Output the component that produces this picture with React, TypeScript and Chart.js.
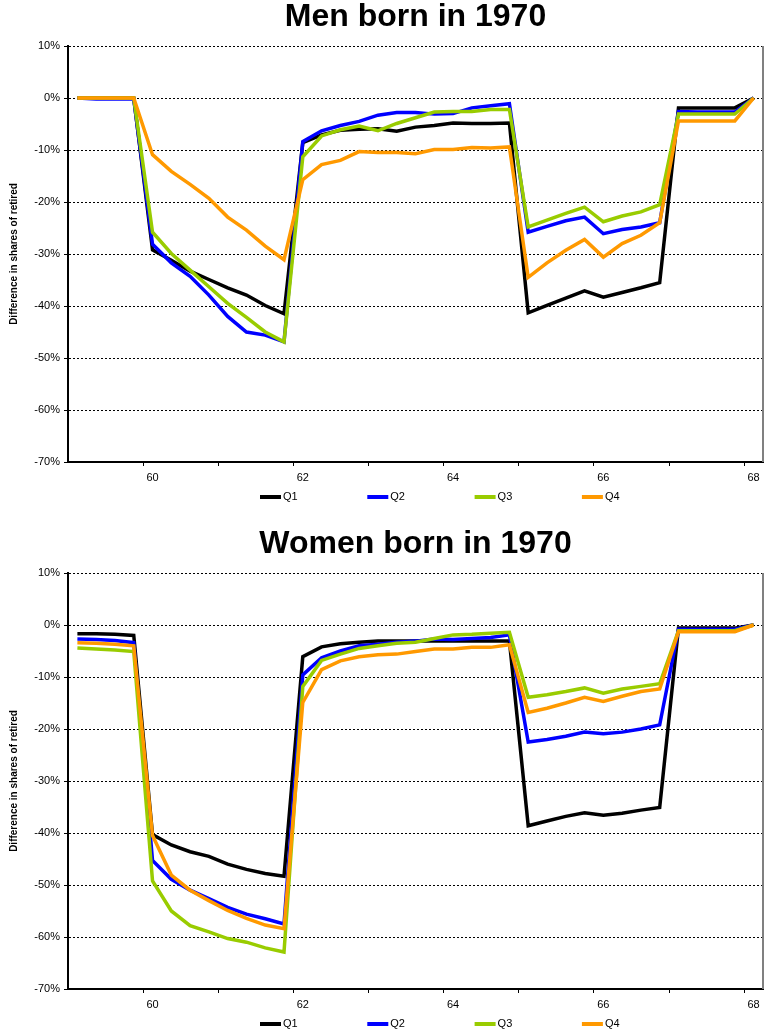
import React, { useEffect, useRef } from 'react';
import { Chart, registerables } from 'chart.js';

Chart.register(...registerables);

const ages = [
  59, 59.25, 59.5, 59.75, 60, 60.25, 60.5, 60.75, 61, 61.25, 61.5, 61.75,
  62, 62.25, 62.5, 62.75, 63, 63.25, 63.5, 63.75, 64, 64.25, 64.5, 64.75,
  65, 65.25, 65.5, 65.75, 66, 66.25, 66.5, 66.75, 67, 67.25, 67.5, 67.75, 68,
];

const seriesNames = ['Q1', 'Q2', 'Q3', 'Q4'];
const seriesColors = ['#000000', '#0000FF', '#99CC00', '#FF9900'];
const yTickValues = [10, 0, -10, -20, -30, -40, -50, -60, -70];
const xLabelAges = [60, 62, 64, 66, 68];

const menQ1 = [0, 0, 0, 0, -29.2, -31.2, -33.3, -34.9, -36.5, -37.9, -39.9, -41.5, -8.6, -7.1, -6.2, -6.0, -5.9, -6.4, -5.6, -5.3, -4.8, -4.9, -4.9, -4.8, -41.3, -39.9, -38.5, -37.1, -38.3, -37.4, -36.5, -35.5, -1.9, -1.9, -1.9, -1.9, 0];
const menQ2 = [0, -0.2, -0.2, -0.2, -28.1, -31.7, -34.3, -37.9, -42.0, -45.0, -45.6, -46.9, -8.4, -6.3, -5.3, -4.5, -3.3, -2.8, -2.8, -3.1, -3.0, -1.9, -1.5, -1.1, -25.8, -24.7, -23.6, -22.9, -26.1, -25.3, -24.8, -24.0, -2.6, -2.7, -2.7, -2.7, 0];
const menQ3 = [0, 0, 0, 0, -25.8, -29.9, -33.1, -36.3, -39.5, -42.2, -45.0, -46.9, -11.3, -7.3, -6.1, -5.4, -6.3, -4.9, -3.8, -2.7, -2.6, -2.6, -2.2, -2.2, -24.8, -23.5, -22.2, -21.0, -23.8, -22.7, -21.9, -20.5, -3.1, -3.1, -3.1, -3.1, 0];
const menQ4 = [0, 0, 0, 0, -10.9, -14.1, -16.6, -19.3, -22.9, -25.4, -28.5, -31.1, -15.7, -12.8, -12.0, -10.3, -10.5, -10.5, -10.7, -9.9, -9.9, -9.5, -9.6, -9.4, -34.5, -31.7, -29.3, -27.2, -30.6, -28.0, -26.4, -24.0, -4.4, -4.4, -4.4, -4.4, 0];

const womenQ1 = [-1.7, -1.7, -1.8, -2.0, -40.3, -42.3, -43.6, -44.5, -46.0, -47.0, -47.8, -48.3, -6.1, -4.2, -3.6, -3.3, -3.1, -3.1, -3.1, -3.1, -3.1, -3.1, -3.1, -3.1, -38.6, -37.7, -36.8, -36.1, -36.6, -36.2, -35.6, -35.1, -0.6, -0.6, -0.6, -0.6, 0];
const womenQ2 = [-2.7, -2.8, -3.0, -3.4, -45.3, -48.9, -51.0, -52.6, -54.3, -55.6, -56.5, -57.5, -9.6, -6.3, -5.0, -4.0, -3.7, -3.3, -3.1, -2.7, -2.8, -2.6, -2.4, -1.9, -22.5, -22.0, -21.4, -20.6, -20.9, -20.6, -20.0, -19.2, -0.8, -0.8, -0.8, -0.8, 0];
const womenQ3 = [-4.4, -4.6, -4.8, -5.1, -49.2, -55.0, -57.8, -59.0, -60.3, -61.0, -62.1, -62.9, -11.8, -6.8, -5.6, -4.5, -4.0, -3.5, -3.3, -2.6, -1.9, -1.8, -1.6, -1.4, -13.9, -13.4, -12.8, -12.1, -13.1, -12.3, -11.8, -11.3, -1.1, -1.1, -1.1, -1.1, 0];
const womenQ4 = [-3.4, -3.5, -3.7, -4.0, -40.5, -48.1, -51.0, -53.0, -54.9, -56.4, -57.7, -58.4, -14.9, -8.6, -6.9, -6.1, -5.7, -5.6, -5.1, -4.6, -4.6, -4.3, -4.3, -3.8, -16.8, -16.0, -15.0, -13.9, -14.7, -13.7, -12.8, -12.3, -1.3, -1.3, -1.3, -1.3, 0];

const menTitle = 'Men born in 1970';
const womenTitle = 'Women born in 1970';
const yAxisTitle = 'Difference in shares of retired';

const FONT = '"Liberation Sans", Arial, Helvetica, sans-serif';
const W = 767;
const H = 527;

const framePlugin = {
  id: 'frameAndLegend',
  beforeDatasetsDraw(chart: any) {
    const { ctx, chartArea: a } = chart;
    ctx.save();
    ctx.strokeStyle = '#808080';
    ctx.lineWidth = 2;
    ctx.beginPath();
    ctx.moveTo(a.right, a.top);
    ctx.lineTo(a.right, a.bottom);
    ctx.stroke();
    ctx.restore();
  },
  afterDraw(chart: any) {
    const { ctx, chartArea: a } = chart;
    const y = a.bottom + 35;
    ctx.save();
    ctx.font = '11px ' + FONT;
    ctx.textBaseline = 'middle';
    ctx.textAlign = 'left';
    chart.data.datasets.forEach((ds: any, i: number) => {
      const x = a.left + 192 + i * 107.3;
      ctx.fillStyle = ds.borderColor;
      ctx.fillRect(x, y - 2, 21, 4);
      ctx.fillStyle = '#000';
      ctx.fillText(ds.label, x + 23, y);
    });
    ctx.restore();
  },
};

function Panel({ title, series }: { title: string; series: number[][] }) {
  const ref = useRef<HTMLCanvasElement>(null);
  useEffect(() => {
    const canvas = ref.current;
    if (!canvas) return;
    const chart = new Chart(canvas, {
      type: 'line',
      data: {
        labels: ages.map(String),
        datasets: series.map((d, i) => ({
          label: seriesNames[i],
          data: d,
          borderColor: seriesColors[i],
          backgroundColor: seriesColors[i],
          borderWidth: 3.5,
          pointRadius: 0,
          tension: 0,
          fill: false,
          order: series.length - 1 - i,
        })),
      },
      options: {
        responsive: false,
        animation: false,
        layout: { padding: { left: 0, right: 4, top: 0, bottom: 35 } },
        plugins: {
          legend: { display: false },
          tooltip: { enabled: false },
          title: {
            display: true,
            text: title,
            fullSize: false,
            color: '#000',
            font: { family: FONT, size: 32, weight: 'bold', lineHeight: 1.1 },
            padding: { top: 0, bottom: 10.8 },
          },
        },
        scales: {
          x: {
            type: 'category',
            offset: true,
            grid: {
              offset: true,
              drawOnChartArea: false,
              drawTicks: true,
              tickLength: 4,
              tickWidth: 1,
              lineWidth: 1,
              tickColor: (c: any) => {
                const i = c.index;
                if (i === undefined || i === 0) return 'rgba(0,0,0,0)';
                return Number.isInteger(ages[i]) ? '#000' : 'rgba(0,0,0,0)';
              },
            },
            border: { display: true, color: '#000', width: 2 },
            ticks: {
              autoSkip: false,
              maxRotation: 0,
              minRotation: 0,
              padding: 5,
              color: '#000',
              font: { family: FONT, size: 11 },
              callback: (_v: any, i: number) =>
                xLabelAges.includes(ages[i]) ? String(ages[i]) : '',
            },
            afterFit: (s: any) => {
              s.height = 30;
            },
          },
          y: {
            min: yTickValues[yTickValues.length - 1],
            max: yTickValues[0],
            afterBuildTicks: (s: any) => {
              s.ticks = yTickValues.map((v) => ({ value: v }));
            },
            grid: {
              color: '#000',
              lineWidth: 1,
              drawTicks: true,
              tickLength: 4,
              tickColor: '#000',
              tickBorderDash: [],
            },
            border: { display: true, color: '#000', width: 2, dash: [2, 2] },
            ticks: {
              padding: 4,
              color: '#000',
              font: { family: FONT, size: 11 },
              callback: (v: any) => v + '%',
            },
            title: {
              display: true,
              text: yAxisTitle,
              color: '#000',
              font: { family: FONT, size: 10, weight: 'bold' },
              padding: { top: 8, bottom: 0 },
            },
            afterFit: (s: any) => {
              s.width = 68;
            },
          },
        },
      },
      plugins: [framePlugin],
    } as any);
    return () => chart.destroy();
  }, [title, series]);
  return (
    <canvas
      ref={ref}
      width={W}
      height={H}
      style={{ display: 'block', width: W, height: H }}
    />
  );
}

const menSeries = [menQ1, menQ2, menQ3, menQ4];
const womenSeries = [womenQ1, womenQ2, womenQ3, womenQ4];

export default function App() {
  return (
    <div
      style={{
        position: 'absolute',
        left: 0,
        top: 0,
        width: W,
        height: 1034,
        overflow: 'hidden',
        background: '#fff',
      }}
    >
      <Panel title={menTitle} series={menSeries} />
      <Panel title={womenTitle} series={womenSeries} />
    </div>
  );
}
